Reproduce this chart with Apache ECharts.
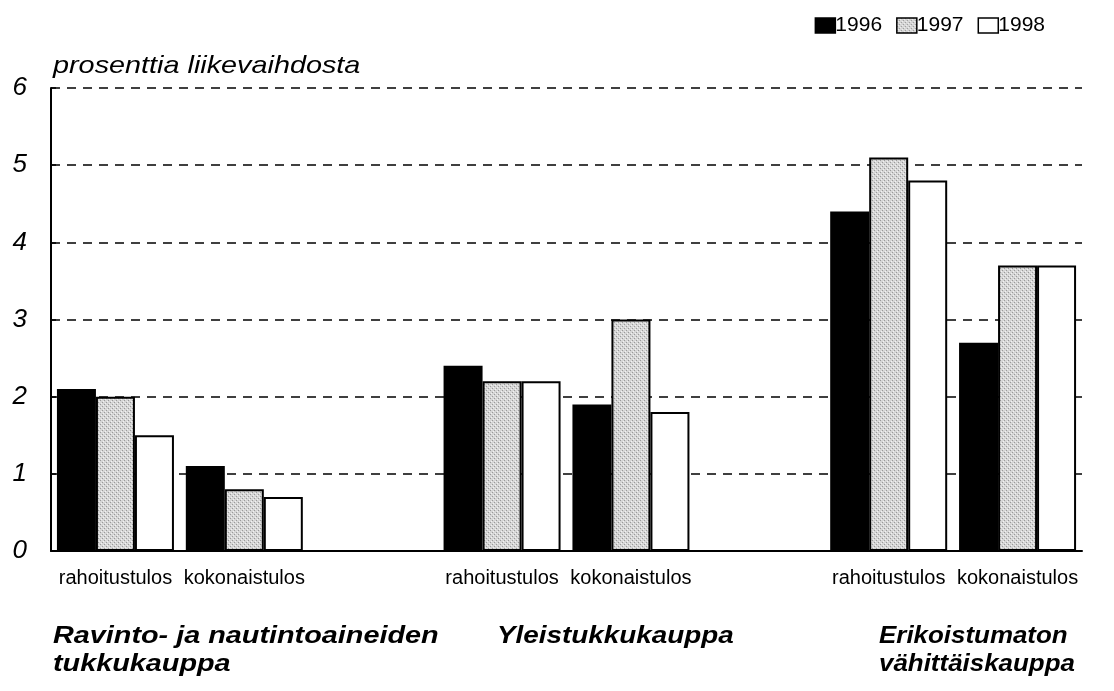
<!DOCTYPE html>
<html><head><meta charset="utf-8">
<script src="https://cdn.jsdelivr.net/npm/echarts@6/dist/echarts.min.js"></script>
<style>html,body{margin:0;padding:0;background:#fff}#c{width:1114px;height:691px}</style>
</head><body><div id="c"></div>
<script>
const categories = ['rahoitustulos','kokonaistulos','','rahoitustulos','kokonaistulos','','rahoitustulos','kokonaistulos'];
const years = ['1996','1997','1998'];
const v1996 = [2.1, 1.1, null, 2.4, 1.9, null, 4.4, 2.7];
const v1997 = [2.0, 0.8, null, 2.2, 3.0, null, 5.1, 3.7];
const v1998 = [1.5, 0.7, null, 2.2, 1.8, null, 4.8, 3.7];
const yTicks = [0,1,2,3,4,5,6];
const groupNames = ['Ravinto- ja nautintoaineiden\ntukkukauppa','Yleistukkukauppa','Erikoistumaton\nvähittäiskauppa'];
const yTitle = 'prosenttia liikevaihdosta';

// stipple pattern for 1997
const pc = document.createElement('canvas'); pc.width = 4; pc.height = 4;
const px = pc.getContext('2d');
px.fillStyle = '#d6d6d6'; px.fillRect(0,0,4,4);
px.fillStyle = '#9a9a9a'; px.fillRect(0,0,1,1); px.fillRect(2,2,1,1);
px.fillStyle = '#f2f2f2'; px.fillRect(1,3,1,1); px.fillRect(3,1,1,1);

const chart = echarts.init(document.getElementById('c'), null, {renderer:'canvas'});
const fills = ['#000000', {image: pc, repeat: 'repeat'}, '#ffffff'];
const data = [v1996, v1997, v1998];
const sans = 'Arial, "Liberation Sans", Helvetica, sans-serif';
const gfont = 'bold italic 24px ' + sans;
chart.setOption({
  animation: false,
  backgroundColor: '#fff',
  grid: {left: 51, right: 32, top: 88, bottom: 140},
  legend: {
    data: years, right: 64, top: 10, itemWidth: 20, itemHeight: 15, itemGap: 14, icon: 'rect',
    textStyle: {fontFamily: sans, fontSize: 21, color: '#000', padding: [0,0,0,-5]},
    itemStyle: {borderColor: '#000', borderWidth: 1.5}
  },
  xAxis: {
    type: 'category', data: categories,
    axisLine: {lineStyle: {color: '#000', width: 2}},
    axisTick: {show: false},
    axisLabel: {interval: 0, margin: 17, fontFamily: sans, fontSize: 20, color: '#000'}
  },
  yAxis: {
    type: 'value', min: 0, max: 6, interval: 1,
    axisLine: {show: true, lineStyle: {color: '#000', width: 2}},
    axisTick: {show: true, inside: true, length: 5, lineStyle: {color: '#000', width: 1.5}},
    axisLabel: {margin: 24, fontFamily: sans, fontStyle: 'italic', fontSize: 26, color: '#000',
      formatter: v => yTicks.includes(v) ? String(v) : ''},
    splitLine: {lineStyle: {color: '#000', width: 1.5, type: [9, 7]}}
  },
  series: years.map((y, i) => ({
    name: y, type: 'bar', data: data[i], barWidth: 39, barGap: '0%',
    itemStyle: {color: fills[i], borderColor: '#000', borderWidth: 2}
  })),
  graphic: [
    {type: 'text', x: 53, y: 54, scaleX: 1.2, style: {text: yTitle, font: 'italic 24px ' + sans, fill: '#000'}},
    {type: 'text', x: 53, y: 622, scaleX: 1.2, style: {text: groupNames[0], font: gfont, fill: '#000', lineHeight: 28}},
    {type: 'text', x: 497, y: 622, scaleX: 1.16, style: {text: groupNames[1], font: gfont, fill: '#000', lineHeight: 28}},
    {type: 'text', x: 879, y: 622, scaleX: 1.08, style: {text: groupNames[2], font: gfont, fill: '#000', lineHeight: 28}}
  ]
});
</script></body></html>
